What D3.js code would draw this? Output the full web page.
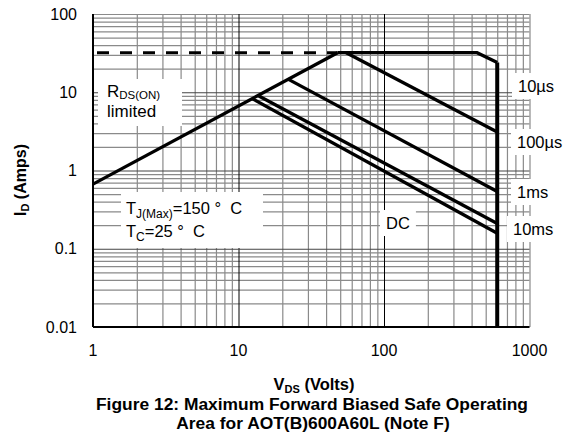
<!DOCTYPE html>
<html>
<head>
<meta charset="utf-8">
<script src="https://cdn.jsdelivr.net/npm/d3@7"></script>
<style>
  body { margin: 0; background: #fff; }
  text { font-family: "Liberation Sans", Arial, sans-serif; }
</style>
</head>
<body>
<div id="soa"></div>
<script>
// chart values
var xTicks = [1, 10, 100, 1000]
var xTickLabels = ["1", "10", "100", "1000"]
var yTicks = [0.01, 0.1, 1, 10, 100]
var yTickLabels = ["0.01", "0.1", "1", "10", "100"]

// Rds(on) limit and the package current limit (dashed)
var rdsV = [1, 48]
var rdsI = [0.67, 32]
var pkgV = [1, 48]
var pkgI = [32, 32]

// pulse lines
var pulseNames = ["10\u00b5s", "100\u00b5s", "1ms", "10ms", "DC"]
var v10us = [48, 436, 600]
var i10us = [32, 32, 24]
var v100us = [55, 600]
var i100us = [32, 3.1]
var v1ms = [21.9, 600]
var i1ms = [14.7, 0.54]
var v10ms = [13.6, 600]
var i10ms = [9.1, 0.21]
var vDC = [12.4, 600]
var iDC = [8.3, 0.158]

// BVdss limit
var bvV = [600, 600]
var bvI = [24, 0.01]

var width = 572, height = 436
var plotLeft = 93, plotRight = 529.5, plotTop = 14, plotBottom = 327

var svg = d3.select("#soa").append("svg")
    .attr("width", width)
    .attr("height", height)

var x = d3.scaleLog().domain([1, 1000]).range([plotLeft, plotRight])
var y = d3.scaleLog().domain([0.01, 100]).range([plotBottom, plotTop])

// minor grid values (2..9 in each decade)
var xMinor = []
xTicks.slice(0, -1).forEach(function(d) { for (var k = 2; k <= 9; k++) xMinor.push(d * k) })
var yMinor = []
yTicks.slice(0, -1).forEach(function(d) { for (var k = 2; k <= 9; k++) yMinor.push(d * k) })

var grid = svg.append("g")

function gridLines(axis, vals, size, color, w, tr) {
  grid.append("g")
      .attr("transform", tr)
      .call(axis.tickValues(vals).tickSize(size).tickFormat(""))
      .call(function(g) { g.select(".domain").remove(); g.selectAll("text").remove() })
      .selectAll("line").attr("stroke", color).attr("stroke-width", w)
}
// gray grid
gridLines(d3.axisBottom(x), xMinor.concat([1000]), -(plotBottom - plotTop), "#8a8a8a", 1.2, "translate(0," + plotBottom + ")")
gridLines(d3.axisLeft(y), yMinor.concat([100]), -(plotRight - plotLeft), "#8a8a8a", 1.2, "translate(" + plotLeft + ",0)")
// decade lines
gridLines(d3.axisBottom(x), [10, 100], -(plotBottom - plotTop), "#000", 1, "translate(0," + plotBottom + ")")
gridLines(d3.axisLeft(y), [0.1, 1, 10], -(plotRight - plotLeft), "#444", 1, "translate(" + plotLeft + ",0)")

// white label boxes, drawn over the grid
var boxes = svg.append("g")
var labels = svg.append("g").style("font-size", "16.5px")

function boxedText(build, pad) {
  var t = build(labels)
  var b = t.node().getBBox()
  boxes.append("rect")
    .attr("x", b.x - pad[0]).attr("y", b.y - pad[1])
    .attr("width", b.width + pad[0] * 2).attr("height", b.height + pad[1] * 2)
    .attr("fill", "#fff")
  return t
}

// RDS(ON) limited
labels.append("text").attr("x", 107).attr("y", 117).style("font-size", "17px").text("limited")
var rds = labels.append("text").attr("x", 107).attr("y", 97).style("font-size", "17px")
rds.append("tspan").text("R")
rds.append("tspan").attr("font-size", "11.5px").attr("dy", 2).text("DS(ON)")
boxes.append("rect").attr("x", 98).attr("y", 79).attr("width", 84).attr("height", 47).attr("fill", "#fff")

// Tj / Tc
var tj = labels.append("text").attr("x", 126).attr("y", 214)
tj.append("tspan").text("T")
tj.append("tspan").attr("font-size", "12px").attr("dy", 4).text("J(Max)")
tj.append("tspan").attr("dy", -4).text("=150\u00a0\u00b0\u00a0\u00a0C")
var tc = labels.append("text").attr("x", 126).attr("y", 237)
tc.append("tspan").text("T")
tc.append("tspan").attr("font-size", "12px").attr("dy", 4).text("C")
tc.append("tspan").attr("dy", -4).text("=25\u00a0\u00b0\u00a0\u00a0C")
boxes.append("rect").attr("x", 121).attr("y", 192).attr("width", 142).attr("height", 56).attr("fill", "#fff")

// pulse labels (positions only)
var labelPos = [[518, 92], [517, 148], [517, 198], [513, 235], [386, 229]]
pulseNames.forEach(function(name, i) {
  boxedText(function(g) {
    return g.append("text").attr("x", labelPos[i][0]).attr("y", labelPos[i][1]).text(name)
  }, [6, 4])
})

// axes (thick left and bottom)
svg.append("line").attr("x1", plotLeft).attr("x2", plotLeft).attr("y1", plotTop).attr("y2", plotBottom)
    .attr("stroke", "#000").attr("stroke-width", 2)
svg.append("line").attr("x1", plotLeft).attr("x2", plotRight).attr("y1", plotBottom).attr("y2", plotBottom)
    .attr("stroke", "#000").attr("stroke-width", 2)

// curves
var line = d3.line().x(function(d) { return x(d[0]) }).y(function(d) { return y(d[1]) })
function curve(vs, is, w, dash) {
  svg.append("path")
    .datum(d3.zip(vs, is))
    .attr("d", line)
    .attr("fill", "none")
    .attr("stroke", "#000")
    .attr("stroke-width", w)
    .attr("stroke-dasharray", dash || null)
    .attr("stroke-dashoffset", dash ? -4 : null)
}
curve(pkgV, pkgI, 3, "12,11")
curve(rdsV, rdsI, 3.3)
curve(v10us, i10us, 3.3)
curve(v100us, i100us, 3.3)
curve(v1ms, i1ms, 3.3)
curve(v10ms, i10ms, 3.3)
curve(vDC, iDC, 3.3)
curve(bvV, bvI, 4)

// tick labels
var axisText = svg.append("g").style("font-size", "16px")
axisText.selectAll(".yt").data(yTicks).enter().append("text")
    .attr("x", 77).attr("y", function(d) { return y(d) + 5.5 })
    .attr("text-anchor", "end")
    .text(function(d, i) { return yTickLabels[i] })
axisText.selectAll(".xt").data(xTicks).enter().append("text")
    .attr("x", function(d) { return x(d) }).attr("y", 356)
    .attr("text-anchor", "middle")
    .text(function(d, i) { return xTickLabels[i] })

// axis titles
var xt = svg.append("text").attr("x", 314).attr("y", 390)
    .attr("text-anchor", "middle").style("font-size", "16.5px").style("font-weight", "bold")
xt.append("tspan").text("V")
xt.append("tspan").attr("font-size", "11px").attr("dy", 3).text("DS")
xt.append("tspan").attr("dy", -3).text(" (Volts)")

var yt = svg.append("text").attr("transform", "translate(26,180) rotate(-90)")
    .attr("text-anchor", "middle").style("font-size", "16px").style("font-weight", "bold")
yt.append("tspan").text("I")
yt.append("tspan").attr("font-size", "11px").attr("dy", 3).text("D")
yt.append("tspan").attr("dy", -3).text(" (Amps)")

// caption
svg.append("text").attr("x", 312).attr("y", 410).attr("text-anchor", "middle")
    .style("font-size", "17.4px").style("font-weight", "bold")
    .text("Figure 12: Maximum Forward Biased Safe Operating")
svg.append("text").attr("x", 313).attr("y", 429).attr("text-anchor", "middle")
    .style("font-size", "17.4px").style("font-weight", "bold")
    .text("Area for AOT(B)600A60L (Note F)")
</script>
</body>
</html>
